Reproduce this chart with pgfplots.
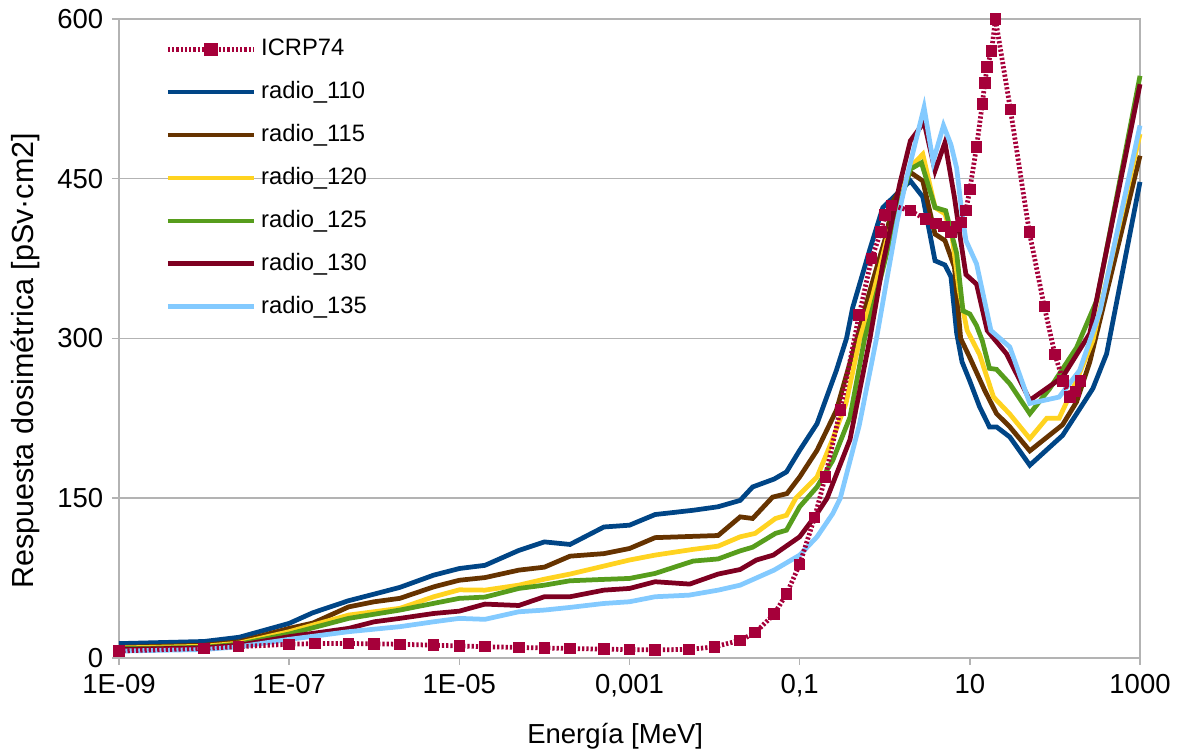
\documentclass[border=0pt]{standalone}
\usepackage{pgfplots}
\pgfplotsset{compat=1.18}
\usepackage{fontspec}
\setmainfont{Liberation Sans}
\definecolor{c110}{HTML}{004586}
\definecolor{c115}{HTML}{663300}
\definecolor{c120}{HTML}{FFD320}
\definecolor{c125}{HTML}{579D1C}
\definecolor{c130}{HTML}{7E0021}
\definecolor{c135}{HTML}{83CAFF}
\definecolor{icrp}{HTML}{A6003A}
\definecolor{gridgray}{HTML}{B3B3B3}
\pgfplotsset{
  radio/.style={line width=1.9pt, no markers},
  icrpstyle/.style={color=icrp, line width=1.9pt, dash pattern=on 0.9pt off 0.8pt,
    mark=square*, mark size=2.1pt, mark options={solid, fill=icrp, draw=icrp, line width=0.4pt}},
  icrplegend/.style={legend image code/.code={\draw[mark repeat=2,mark phase=2,mark size=2.5pt,##1] plot coordinates {(0pt,0pt) (17.2pt,0pt) (34.4pt,0pt)};}},
}
\begin{document}
\begin{tikzpicture}
\useasboundingbox (-47.6pt,-38pt) rectangle (423.2pt,263.2pt);
\begin{axis}[
  at={(0,0)}, anchor=south west,
  scale only axis, width=408.4pt, height=255.6pt,
  xmode=log, xmin=1e-9, xmax=1000, ymin=0, ymax=600,
  xtick={1e-9,1e-7,1e-5,1e-3,1e-1,1e1,1e3},
  xticklabels={1E-09,1E-07,1E-05,{0,001},{0,1},10,1000},
  xminorticks=false,
  ytick={0,150,300,450,600},
  ymajorgrids, grid style={draw=gridgray, line width=0.6pt},
  axis line style={draw=gridgray, line width=0.6pt},
  tick style={draw=gridgray, line width=0.6pt},
  tick align=outside, major tick length=2.8pt,
  xtick pos=bottom, ytick pos=left,
  ticklabel style={font=\fontsize{11}{13}\selectfont},
  /pgf/number format/assume math mode=true,
  clip=false,
  xlabel={Energía [MeV]}, ylabel={Respuesta dosimétrica [pSv·cm2]},
  xlabel style={font=\fontsize{11}{13}\selectfont, at={(axis description cs:0.486,-0.1225)}, anchor=center},
  ylabel style={font=\fontsize{12.2}{14}\selectfont, at={(axis description cs:-0.092,0.465)}, anchor=center},
  legend style={at={(0.045,0.977)}, anchor=north west, draw=none, fill=none,
    font=\fontsize{9.5}{10}\selectfont, row sep=4.8pt, inner sep=0pt},
  legend cell align=left,
  legend image code/.code={\draw[#1] (0pt,0pt) -- (34.4pt,0pt);},
]
\addlegendimage{icrpstyle, icrplegend}
\addlegendentry{ICRP74}

\addplot[radio, c110] table {
1e-9 13.5
1e-8 15.5
2.6e-8 19.5
1e-7 32.5
1.9e-7 42.5
5e-7 53.8
1e-6 60
2e-6 66.3
5e-6 77.8
1e-5 84
2e-5 87
5e-5 101
1e-4 109
2e-4 106.6
5e-4 123
1e-3 124.7
2e-3 134.7
5.6e-3 138.7
0.011 142
0.02 148
0.028 160.6
0.05 168
0.07 174.7
0.1 195
0.16 220
0.27 270
0.355 300
0.42 329
0.67 384
0.95 423
2.0 448
2.8 433
3.9 373
5.1 369
6.0 358
7.0 305
8.1 278
10 260
13 236
17 217
20.6 217
29.5 207.5
50.7 181
123 209
180 229.4
279 253
405 285.6
1000 447
};
\addlegendentry{radio\_110}

\addplot[radio, c115] table {
1e-9 10
1e-8 12
2.6e-8 15.3
1e-7 27.8
1.9e-7 32.8
5e-7 48
1e-6 52.8
2e-6 56
5e-6 66.8
1e-5 73
2e-5 75.5
5e-5 82.5
1e-4 85.3
2e-4 95.6
5e-4 98
1e-3 102.8
2e-3 113
0.011 115
0.02 132.5
0.028 131
0.048 151
0.071 154.4
0.1 170
0.16 195
0.27 232.5
0.47 300
0.67 345
1.05 398
1.25 429
2.0 456
2.8 448
3.9 398
5.1 392
6.6 367
7.8 300
10 282
15 251
20.6 229.4
29.5 217
50.7 194.5
123 219
180 240.6
257 278
1000 471.6
};
\addlegendentry{radio\_115}

\addplot[radio, c120] table {
1e-9 9.4
1e-8 11
2.6e-8 14
1e-7 24.7
5e-7 40.3
2e-6 46.6
5e-6 57.5
1e-5 64
2e-5 63.7
5e-5 68.4
1e-4 74
2e-4 78.8
5e-4 86.3
1e-3 92
2e-3 96.6
5.6e-3 102
0.011 105
0.02 113.8
0.03 117
0.052 131
0.07 134
0.09 150
0.16 170
0.24 204
0.35 239
0.51 300
0.72 340
1.05 392
1.5 430
2.0 461
2.8 473
3.9 423
5.1 417
6.2 395
7.5 345
9.3 307.5
13 285
19 245
29.5 229
50.7 206
80 225
112 225
180 260.6
279 298
1000 492
};
\addlegendentry{radio\_120}

\addplot[radio, c125] table {
1e-9 8.7
1e-8 10
2.6e-8 13
1e-7 22.5
5e-7 37.2
2e-6 45
5e-6 51.3
1e-5 56
2e-5 57.2
5e-5 65.3
1e-4 68.4
2e-4 72.5
5e-4 73.8
1e-3 74.7
2e-3 79.4
5.6e-3 91
0.011 93
0.02 100.6
0.028 104
0.052 117
0.07 120
0.1 142
0.16 160.6
0.245 185.6
0.39 226
0.58 300
0.95 365
1.38 418
2.0 459
2.7 465
3.9 423
5.2 420
7.0 380
8.3 326
10 323
12 312
14 298
17 272
20.6 271
29.5 257.5
50.7 229.4
87 253
180 291.6
310 335.6
1000 546.6
};
\addlegendentry{radio\_125}

\addplot[radio, c130] table {
1e-9 8
1e-8 9.5
2.6e-8 12
1e-7 20
5e-7 27.8
1e-6 34
2e-6 37.2
5e-6 41.8
1e-5 44
2e-5 50.6
5e-5 49.3
1e-4 57.5
2e-4 57.5
5e-4 63.7
1e-3 65.3
2e-3 71.6
5.1e-3 69.4
0.011 78.8
0.02 83.1
0.031 92
0.049 96.6
0.1 113.8
0.16 135.6
0.21 150
0.39 205
0.67 300
0.95 370
1.5 445
2.0 485.6
2.9 503
3.9 457.5
5.1 484
6.6 432.5
7.8 392
9 360
12 351
16 307.5
27 285.6
50.7 242
123 263.7
257 304.7
1000 538.8
};
\addlegendentry{radio\_130}

\addplot[radio, c135] table {
1e-9 6.5
1e-8 8
2.6e-8 10.6
1e-7 17.5
5e-7 24.7
2e-6 29.4
5e-6 34
1e-5 37.2
2e-5 36.3
5e-5 43.4
1e-4 45
2e-4 47.5
5e-4 51.2
1e-3 52.8
2e-3 57.5
5e-3 59
0.011 63.7
0.02 68.4
0.05 82.5
0.1 96.6
0.16 113.8
0.245 135.6
0.3 150
0.5 218
0.8 300
1.05 354
1.4 410
1.8 450
2.9 517
3.7 466
4.9 500
6.0 482
7.0 460
8.0 420
9.0 392
12 370
17.7 307.5
29.5 292
50.7 239
112 245
195 270
340 326
1000 500
};
\addlegendentry{radio\_135}

\addplot[icrpstyle, forget plot] table {
1e-9 6.6
1e-8 9.0
2.53e-8 10.6
1e-7 12.9
2e-7 13.5
5e-7 13.6
1e-6 13.3
2e-6 12.9
5e-6 12.0
1e-5 11.3
2e-5 10.6
5e-5 9.9
1e-4 9.4
2e-4 8.9
5e-4 8.3
1e-3 7.9
2e-3 7.7
5e-3 8.0
0.01 10.5
0.02 16.6
0.03 23.7
0.05 41.1
0.07 60.0
0.1 88.0
0.15 132
0.2 170
0.3 233
0.5 322
0.7 375
0.9 400
1 416
1.2 425
2 420
3 412
4 408
5 405
6 400
7 405
8 409
9 420
10 440
12 480
14 520
15 540
16 555
18 570
20 600
30 515
50 400
75 330
100 285
125 260
150 245
175 250
201 260
};
\end{axis}
\end{tikzpicture}
\end{document}
